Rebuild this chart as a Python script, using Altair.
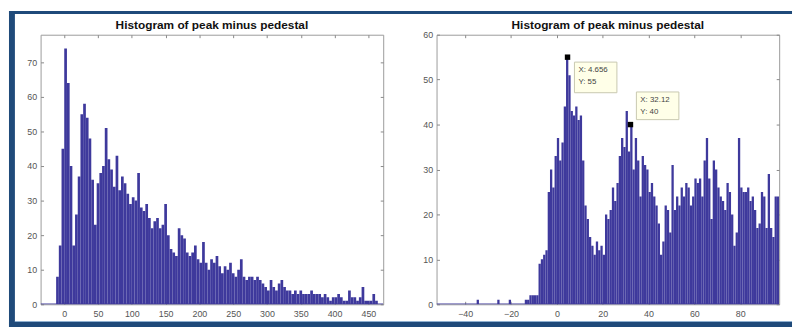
import altair as alt
import pandas as pd

TITLE = "Histogram of peak minus pedestal"

# ---- left histogram (bin width 4) ----
left_bin_width = 4
left_starts = list(range(-12, 468, 4))
left_counts = [8, 17, 45, 74, 64, 40, 17, 26, 37, 55, 58, 54, 48, 36, 23, 35,
               38, 40, 51, 42, 39, 34, 43, 33, 37, 35, 32, 29, 31, 30, 38, 28,
               27, 29, 25, 22, 24, 25, 22, 23, 29, 20, 16, 15, 14, 22, 20, 19,
               15, 14, 15, 17, 13, 12, 18, 12, 10, 13, 12, 14, 11, 9, 11, 10,
               12, 9, 8, 10, 13, 8, 7, 8, 8, 7, 8, 7, 6, 5, 4, 7,
               5, 4, 6, 7, 5, 4, 4, 3, 4, 3, 4, 3, 3, 3, 4, 3,
               3, 3, 2, 3, 2, 1, 2, 2, 3, 2, 1, 1, 4, 2, 2, 1,
               2, 5, 1, 1, 1, 3, 1, 0]
left_xdomain = [-35, 472]
left_ydomain = [0, 78]
left_xticks = [0, 50, 100, 150, 200, 250, 300, 350, 400, 450]
left_yticks = [0, 10, 20, 30, 40, 50, 60, 70]

# ---- right histogram (bin width 1) ----
right_bin_width = 1
right_starts = [-35, -26, -21, -14, -13, -12, -11] + list(range(-10, 97))
right_counts = [1, 1, 1, 1, 1, 2, 2,
                2, 2, 9, 10, 11, 12, 25, 30, 26, 33,
                37, 32, 36, 44, 55, 51, 43, 42, 44, 41,
                42, 32, 22, 19, 15, 13, 11, 14, 12, 13,
                11, 20, 19, 21, 26, 23, 27, 33, 37, 35,
                43, 34, 40, 30, 37, 32, 24, 33, 31, 30,
                25, 27, 24, 22, 18, 11, 14, 22, 21, 16,
                31, 21, 24, 22, 26, 24, 27, 26, 22, 24,
                28, 27, 28, 24, 32, 37, 28, 19, 32, 30,
                26, 24, 23, 21, 27, 25, 20, 13, 16, 37,
                26, 25, 25, 26, 23, 24, 21, 17, 18, 25,
                24, 17, 29, 17, 15, 24, 24]
right_xdomain = [-52.5, 97]
right_ydomain = [0, 60]
right_xticks = [-40, -20, 0, 20, 40, 60, 80]
right_yticks = [0, 10, 20, 30, 40, 50, 60]

# data tips
tip_x = [4.656, 32.12]
tip_y = [55, 40]
tip_text = ["X: 4.656\nY: 55", "X: 32.12\nY: 40"]

BAR = "#3e399c"
FRAME = "#1f4a7a"
FONT = "Liberation Sans"
LABEL = "#555555"
W, H = 347, 273


def hist_df(starts, counts, w):
    return pd.DataFrame({"x0": starts, "x1": [s + w for s in starts],
                         "count": counts, "zero": [0] * len(starts)})


def panel(df, xdom, ydom, xticks, yticks, extra=None):
    xs = alt.Scale(domain=xdom, nice=False, zero=False)
    ys = alt.Scale(domain=ydom, nice=False, zero=False)
    ax_b = alt.Axis(values=xticks, title=None, grid=False, domain=False, offset=-3,
                    tickSize=3, tickColor="#888", labelFontSize=9, labelFont=FONT,
                    labelColor=LABEL, labelPadding=5)
    ax_l = alt.Axis(values=yticks, title=None, grid=False, domain=False, offset=-3,
                    tickSize=3, tickColor="#888", labelFontSize=9, labelFont=FONT,
                    labelColor=LABEL, labelPadding=4)
    ax_t = alt.Axis(values=xticks, title=None, grid=False, domain=False, offset=-3,
                    tickSize=3, tickColor="#888", labels=False, orient="top")
    ax_r = alt.Axis(values=yticks, title=None, grid=False, domain=False, offset=-3,
                    tickSize=3, tickColor="#888", labels=False, orient="right")
    bars = alt.Chart(df).mark_rect(color=BAR, clip=True).encode(
        x=alt.X("x0:Q", scale=xs, axis=ax_b),
        x2="x1:Q",
        y=alt.Y("count:Q", scale=ys, axis=ax_l),
        y2="zero:Q",
    )
    base = pd.DataFrame({"a": [xdom[0]], "b": [xdom[1]], "z": [0]})
    baseline = alt.Chart(base).mark_rule(color=BAR, strokeWidth=1.5, clip=True).encode(
        x=alt.X("a:Q", scale=xs, axis=ax_t),
        x2="b:Q",
        y=alt.Y("z:Q", scale=ys, axis=ax_r),
    )
    title = alt.Chart(pd.DataFrame({"t": [TITLE]})).mark_text(
        fontSize=12, fontWeight="bold", font=FONT, color="#111",
        align="center", baseline="bottom").encode(
        x=alt.value(W / 2), y=alt.value(-3), text="t:N")
    layers = [bars, baseline, title]
    if extra:
        layers += extra(xs, ys)
    return alt.layer(*layers).resolve_axis(x="independent", y="independent").properties(
        width=W, height=H)


def frame_layers(xs, ys):
    fr = alt.Chart(pd.DataFrame({"k": [0]}))
    top = fr.mark_rect(color=FRAME).encode(
        x=alt.value(-32), x2=alt.value(761), y=alt.value(-24), y2=alt.value(-21))
    left = fr.mark_rect(color=FRAME).encode(
        x=alt.value(-32), x2=alt.value(-26), y=alt.value(-24), y2=alt.value(296))
    bottom = fr.mark_rect(color=FRAME).encode(
        x=alt.value(-32), x2=alt.value(761), y=alt.value(291), y2=alt.value(296))
    light = fr.mark_rect(color="#8fb0d0").encode(
        x=alt.value(-26), x2=alt.value(761), y=alt.value(290), y2=alt.value(291))
    return [top, left, bottom, light]


tips = pd.DataFrame({"tx": tip_x, "ty": tip_y, "label": tip_text})


def tip_layers(xs, ys):
    out = []
    offs = [(7, 50, 5, 36), (6, 49, -33, -5)]
    for i, (x0, x1, y0, y1) in enumerate(offs):
        d = alt.Chart(tips.iloc[[i]])
        box = d.mark_rect(fill="#ffffe8", stroke="#c8c8b0", strokeWidth=1,
                          xOffset=x0, x2Offset=x1, yOffset=y0, y2Offset=y1).encode(
            x=alt.X("tx:Q", scale=xs, axis=None), x2="tx:Q",
            y=alt.Y("ty:Q", scale=ys, axis=None), y2="ty:Q")
        txt = d.mark_text(align="left", baseline="top", dx=x0 + 4, dy=y0 + 4,
                          fontSize=8, font=FONT, color="#444", lineBreak="\n",
                          lineHeight=12).encode(
            x=alt.X("tx:Q", scale=xs, axis=None),
            y=alt.Y("ty:Q", scale=ys, axis=None), text="label:N")
        out += [box, txt]
    mk = alt.Chart(tips).mark_point(shape="square", filled=True, color="black",
                                    size=30, opacity=1).encode(
        x=alt.X("tx:Q", scale=xs, axis=None), y=alt.Y("ty:Q", scale=ys, axis=None))
    out.append(mk)
    return out


left = panel(hist_df(left_starts, left_counts, left_bin_width), left_xdomain,
             left_ydomain, left_xticks, left_yticks, extra=frame_layers)
right = panel(hist_df(right_starts, right_counts, right_bin_width), right_xdomain,
              right_ydomain, right_xticks, right_yticks, extra=tip_layers)

chart = alt.hconcat(left, right, spacing=54, bounds="flush").properties(
    padding={"left": 0, "top": 0, "right": 0, "bottom": 0},
    autosize=alt.AutoSizeParams(type="pad"),
    background="white",
).configure_view(stroke="#9a9a9a", strokeWidth=1)

chart.save("out.html", embed_options={"renderer": "svg", "actions": False, "padding": 0})
